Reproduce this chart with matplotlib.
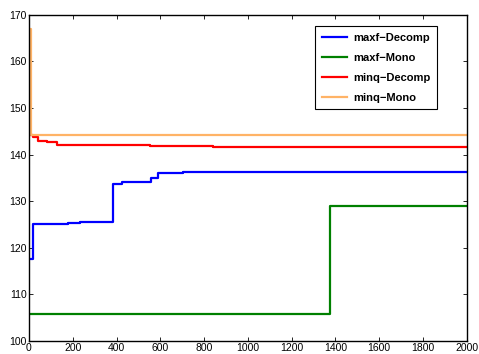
import matplotlib
matplotlib.use('Agg')
import matplotlib.pyplot as plt

# step breakpoints
maxf_decomp_x = [0, 20, 180, 233, 385, 423, 557, 591, 705, 2000]
maxf_decomp_y = [117.5, 125.2, 125.4, 125.5, 133.7, 134.2, 135.0, 136.0, 136.35, 136.35]

maxf_mono_x = [0, 1375, 2000]
maxf_mono_y = [105.7, 128.9, 128.9]

minq_decomp_x = [0, 18, 42, 81, 126, 552, 842, 2000]
minq_decomp_y = [144.2, 143.8, 143.0, 142.7, 142.1, 141.9, 141.65, 141.65]

minq_mono_x = [0, 8, 2000]
minq_mono_y = [167.0, 144.2, 144.2]

labels = ['maxf\u2212Decomp', 'maxf\u2212Mono', 'minq\u2212Decomp', 'minq\u2212Mono']
colors = ['#0000ff', '#008000', '#ff0000', '#ffb366']

plt.rcParams['font.family'] = ['Liberation Sans', 'DejaVu Sans']

fig = plt.figure(figsize=(4.79, 3.54), dpi=100)
ax = fig.add_axes([0.0605, 0.037, 0.914, 0.921])

series = [(maxf_decomp_x, maxf_decomp_y), (maxf_mono_x, maxf_mono_y),
          (minq_decomp_x, minq_decomp_y), (minq_mono_x, minq_mono_y)]
for (x, y), lab, c in zip(series, labels, colors):
    ax.plot(x, y, drawstyle='steps-post', color=c, lw=1.6, label=lab)

ax.set_xlim(0, 2000)
ax.set_ylim(100, 170)
ax.set_xticks(range(0, 2001, 200))
ax.set_yticks(range(100, 171, 10))
ax.tick_params(direction='in', top=True, right=True, length=3, width=0.6,
               labelsize=7.5, pad=1.5)
for s in ax.spines.values():
    s.set_linewidth(1.0)

leg = ax.legend(loc='upper right', bbox_to_anchor=(0.9315, 0.966), borderaxespad=0,
                fancybox=False, edgecolor='black', framealpha=1,
                prop={'weight': 'bold', 'size': 8},
                handlelength=2.3, labelspacing=0.9, borderpad=0.6, handletextpad=0.5)
leg.get_frame().set_linewidth(0.8)

fig.savefig('out.png', dpi=100)
